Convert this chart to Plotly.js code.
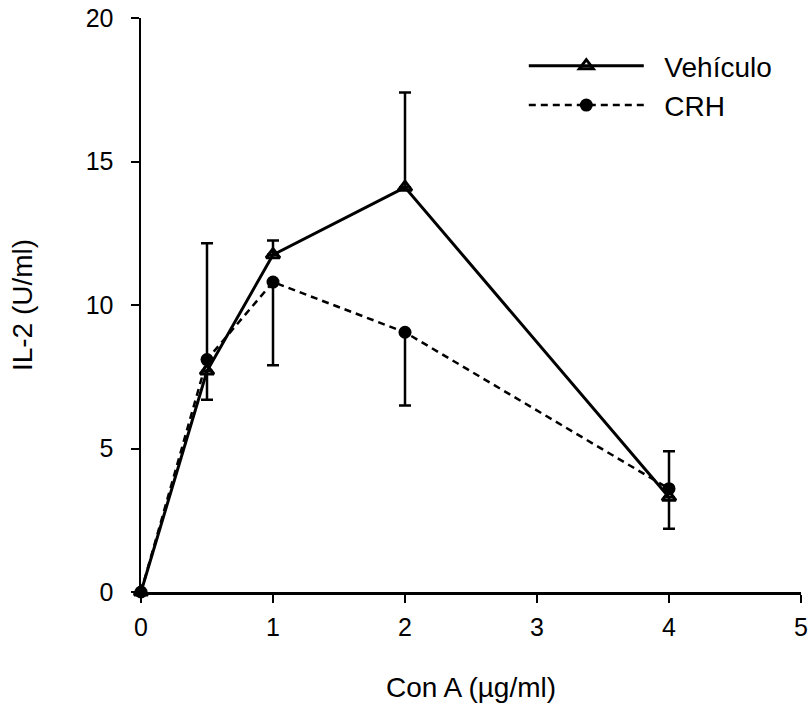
<!DOCTYPE html>
<html>
<head>
<meta charset="utf-8">
<script src="https://cdn.plot.ly/plotly-3.0.1.min.js"></script>
<style>html,body{margin:0;padding:0;background:#fff;}#chart{width:809px;height:706px;}</style>
</head>
<body>
<div id="chart"></div>
<script>
var conA = [0, 0.5, 1, 2, 4];
var vehiculo = [0, 7.7, 11.75, 14.1, 3.3];
var vehiculoErrUp = [0, 0, 0.5, 3.3, 0];
var vehiculoErrDown = [0, 1.0, 0, 0, 1.1];
var crh = [0, 8.1, 10.8, 9.05, 3.6];
var crhErrUp = [0, 4.05, 0, 0, 1.3];
var crhErrDown = [0, 0, 2.9, 2.55, 0];
var xTicks = [0, 1, 2, 3, 4, 5];
var yTicks = [0, 5, 10, 15, 20];
var seriesNames = ['\u00a0\u00a0Vehículo', '\u00a0\u00a0CRH'];

var fam = 'Liberation Sans, Arial, sans-serif';
var tickFont = {family: fam, color: '#000', size: 25};
var titleFont = {family: fam, color: '#000', size: 28};

var traces = [
  {
    x: conA, y: vehiculo, name: seriesNames[0], type: 'scatter', mode: 'lines+markers',
    legendgroup: 'a',
    line: {color: '#000', width: 3, dash: 'solid'},
    marker: {symbol: 'triangle-up-open', size: 12, color: '#000', line: {width: 3, color: '#000'}},
    error_y: {type: 'data', symmetric: false, array: vehiculoErrUp, arrayminus: vehiculoErrDown, color: '#000', thickness: 2.5, width: 6},
    cliponaxis: false
  },
  {
    x: conA, y: crh, name: seriesNames[1], type: 'scatter', mode: 'lines+markers',
    legendgroup: 'b',
    line: {color: '#000', width: 2.5, dash: '7px,5px'},
    marker: {symbol: 'circle', size: 13, color: '#000'},
    error_y: {type: 'data', symmetric: false, array: crhErrUp, arrayminus: crhErrDown, color: '#000', thickness: 2.5, width: 6},
    cliponaxis: false
  }
];

var layout = {
  width: 809, height: 706,
  margin: {l: 141, r: 8, t: 18, b: 114},
  paper_bgcolor: '#fff', plot_bgcolor: '#fff',
  font: tickFont,
  showlegend: true,
  legend: {x: 0.58, y: 0.96, xanchor: 'left', yanchor: 'top', bgcolor: 'rgba(0,0,0,0)',
           font: titleFont, itemwidth: 115,
           traceorder: 'grouped', tracegroupgap: 0},
  xaxis: {
    range: [0, 5], tickvals: xTicks, ticktext: xTicks.map(String),
    showgrid: false, zeroline: false, showline: true, linecolor: '#000', linewidth: 2.5,
    ticks: 'outside', ticklen: 8, tickwidth: 2, tickcolor: '#000',
    tickfont: tickFont, ticklabeloverflow: 'allow', ticklabelstandoff: 3,
    title: {text: 'Con A (µg/ml)', font: titleFont, standoff: 38}
  },
  yaxis: {
    range: [0, 20], tickvals: yTicks, ticktext: yTicks.map(String),
    showgrid: false, zeroline: false, showline: true, linecolor: '#000', linewidth: 2.5,
    ticks: 'outside', ticklen: 8, tickwidth: 2, tickcolor: '#000',
    tickfont: tickFont, ticklabelstandoff: 12,
    title: {text: 'IL-2 (U/ml)', font: titleFont, standoff: 45}
  }
};

Plotly.newPlot('chart', traces, layout, {displayModeBar: false, staticPlot: true});
</script>
</body>
</html>
